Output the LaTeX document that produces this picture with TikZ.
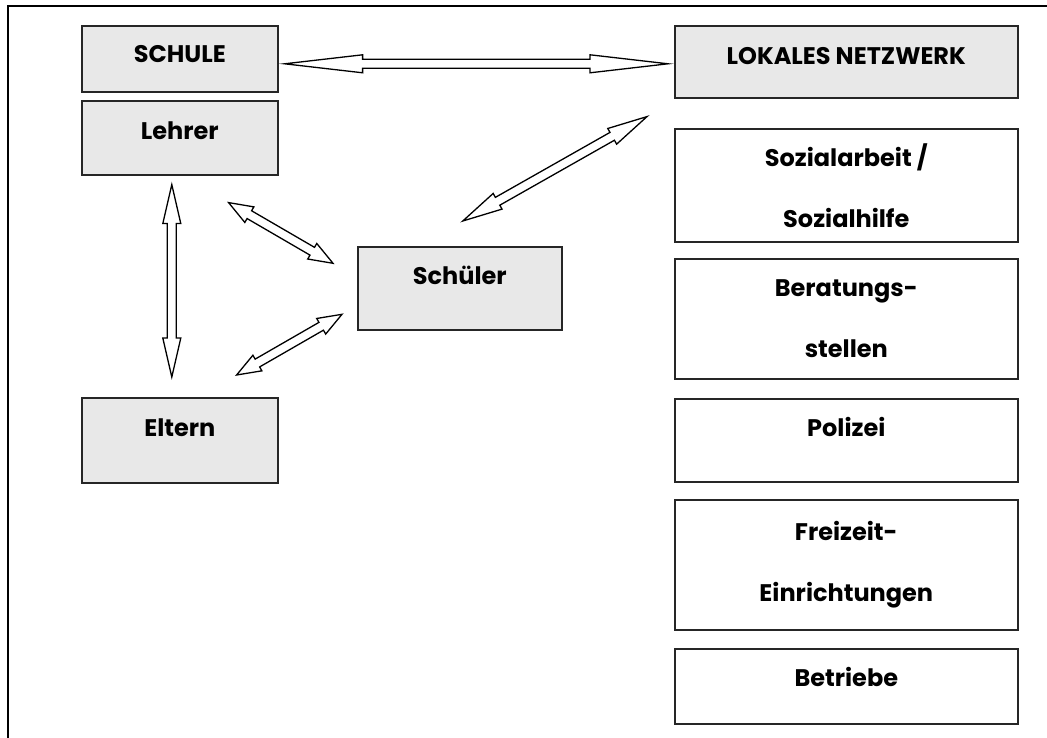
\documentclass[tikz,border=0pt]{standalone}
\usepackage{fontspec}
\setmainfont{Poppins}
\usetikzlibrary{positioning}
\usetikzlibrary{calc}
\tikzset{every picture/.style={line width=1pt},
box/.style={draw=black!85,line width=1.6pt,fill=black!9,minimum width=196pt,inner sep=0pt,align=center,anchor=north west,font=\bfseries\fontsize{24}{28}\selectfont},
netbox/.style={box,fill=white,minimum width=343pt,font=\bfseries\fontsize{24}{61}\selectfont},
lift/.style={text height=17pt,text depth=#1},
dblarrow/.style={draw=black,fill=white,line width=1.3pt,line join=miter}}

\begin{document}
\begin{tikzpicture}[x=1pt,y=-1pt]
\useasboundingbox (0,0) rectangle (1047,738);
\draw[line width=1.6pt] (8,738) -- (8,6) -- (1047,6);
% school side
\node (schule) at (81,25) [box,minimum height=66pt,lift=10pt] {SCHULE};
\node (lehrer) at (81,100) [box,minimum height=74pt,lift=14pt] {Lehrer};
\node (eltern) at (81,397) [box,minimum height=85pt,lift=24pt] {Eltern};
\node (schueler) at (357,246) [box,minimum width=204pt,minimum height=83pt,lift=24pt] {Schüler};
% local network
\node (netz) at (674,25) [box,minimum width=343pt,minimum height=72pt,lift=12pt] {LOKALES NETZWERK};
\node (sozial) at (674,128) [netbox,minimum height=113pt] {Sozialarbeit /\\Sozialhilfe};
\node (berat) at (674,258) [netbox,minimum height=120pt] {Beratungs-\\stellen};
\node (polizei) at (674,398) [netbox,minimum height=83pt,lift=25pt] {Polizei};
\node (freizeit) at (674,499) [netbox,minimum height=130pt] {Freizeit-\\Einrichtungen};
\node (betriebe) at (674,648) [netbox,minimum height=75pt,lift=17pt] {Betriebe};
% arrow ends
\coordinate (h1) at ($(schule.east)+(6,5)$);
\coordinate (h2) at ($(netz.west)+(-6,2)$);
\coordinate (n1) at ($(schueler.north)+(3,-25)$);
\coordinate (n2) at ($(netz.south west)+(-27,18)$);
\coordinate (v1) at ($(lehrer.south)+(-8,9)$);
\coordinate (v2) at ($(eltern.north)+(-8,-20)$);
\coordinate (l1) at ($(lehrer.south east)+(-50,27)$);
\coordinate (l2) at ($(schueler.west)+(-24,-25)$);
\coordinate (e1) at ($(eltern.north east)+(-42,-22)$);
\coordinate (e2) at ($(schueler.west)+(-15,26)$);
\foreach \a/\b/\h in {h1/h2/78pt, n1/n2/40pt, v1/v2/39pt, l1/l2/24pt, e1/e2/24pt} {
\coordinate (p) at ($(\a)!\h!(\b)$);
\coordinate (q) at ($(\b)!\h!(\a)$);
\draw[dblarrow] (\a) -- ($(p)!9pt!-90:(\b)$) -- ($(p)!4.5pt!-90:(\b)$) -- ($(q)!4.5pt!90:(\a)$) -- ($(q)!9pt!90:(\a)$)
 -- (\b) -- ($(q)!9pt!-90:(\a)$) -- ($(q)!4.5pt!-90:(\a)$) -- ($(p)!4.5pt!90:(\b)$) -- ($(p)!9pt!90:(\b)$) -- cycle;
}
\end{tikzpicture}
\end{document}
